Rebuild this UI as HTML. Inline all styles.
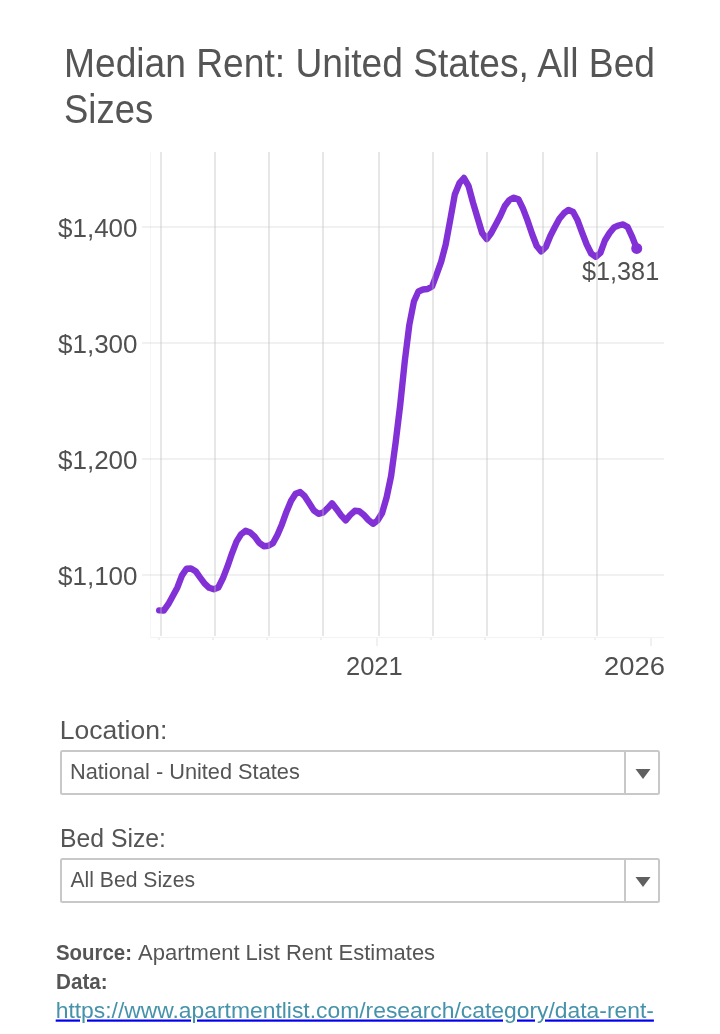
<!DOCTYPE html>
<html><head><meta charset="utf-8"><title>Median Rent: United States, All Bed Sizes</title>
<style>
html,body{margin:0;padding:0;background:#fff;}
body{width:720px;height:1034px;overflow:hidden;position:relative;}
svg{position:absolute;left:0;top:0;font-family:'Liberation Sans', Arial, sans-serif;will-change:transform;}
</style></head><body>
<svg width="720" height="1034" viewBox="0 0 720 1034">
<rect x="150" y="152" width="1" height="485" fill="#f6f6f6"/><rect x="142" y="226" width="522" height="2" fill="rgba(186,186,186,0.2)"/><rect x="142" y="342" width="522" height="2" fill="rgba(186,186,186,0.2)"/><rect x="142" y="458" width="522" height="2" fill="rgba(186,186,186,0.2)"/><rect x="142" y="574" width="522" height="2" fill="rgba(186,186,186,0.2)"/><rect x="150" y="637" width="514" height="1" fill="#f3f3f3"/><rect x="158" y="638" width="2" height="2" fill="#f0f0f0"/><rect x="212" y="638" width="2" height="2" fill="#f0f0f0"/><rect x="266" y="638" width="2" height="2" fill="#f0f0f0"/><rect x="320" y="638" width="2" height="2" fill="#f0f0f0"/><rect x="376" y="638" width="2" height="8" fill="#f0f0f0"/><rect x="430" y="638" width="2" height="2" fill="#f0f0f0"/><rect x="484" y="638" width="2" height="2" fill="#f0f0f0"/><rect x="540" y="638" width="2" height="2" fill="#f0f0f0"/><rect x="594" y="638" width="2" height="2" fill="#f0f0f0"/><rect x="650" y="638" width="2" height="8" fill="#f0f0f0"/><text x="58" y="236.7" font-size="26" fill="#505050">$1,400</text>
<text x="58" y="352.7" font-size="26" fill="#505050">$1,300</text>
<text x="58" y="468.7" font-size="26" fill="#505050">$1,200</text>
<text x="58" y="584.7" font-size="26" fill="#505050">$1,100</text>
<text x="346" y="675.3" font-size="26" fill="#505050" textLength="56.7" lengthAdjust="spacingAndGlyphs">2021</text>
<text x="604" y="675" font-size="26" fill="#505050" textLength="60.9" lengthAdjust="spacingAndGlyphs">2026</text>
<path d="M159.2,610.4 L163.7,610.6 L168.3,604.2 L172.8,596.0 L177.4,587.4 L181.9,575.6 L186.5,568.8 L191.0,568.5 L195.6,571.2 L200.1,577.5 L204.7,583.7 L209.2,587.8 L213.8,589.3 L218.3,587.5 L222.9,578.3 L227.4,566.7 L232.0,553.3 L236.5,541.7 L241.1,534.2 L245.6,530.8 L250.2,532.5 L254.7,536.7 L259.3,542.9 L263.8,546.2 L268.4,545.8 L272.9,543.3 L277.4,535.0 L282.0,524.2 L286.5,511.7 L291.1,500.8 L295.6,493.8 L300.2,492.1 L304.7,496.2 L309.3,503.3 L313.8,510.4 L318.4,513.8 L322.9,512.7 L327.5,508.3 L332.0,503.3 L336.6,509.2 L341.1,515.4 L345.7,520.4 L350.2,515.0 L354.8,510.8 L359.3,511.2 L363.9,515.0 L368.4,520.0 L373.0,523.8 L377.5,520.5 L382.1,513.0 L386.6,497.5 L391.1,476.0 L395.7,442.0 L400.2,405.0 L404.8,361.0 L409.3,325.0 L413.9,301.5 L418.4,291.5 L423.0,289.5 L427.5,289.0 L432.1,286.5 L436.6,274.5 L441.2,261.6 L445.7,244.5 L450.3,219.5 L454.8,194.5 L459.4,183.2 L463.9,178.0 L468.5,185.8 L473.0,202.6 L477.6,218.0 L482.1,233.0 L486.7,239.0 L491.2,233.0 L495.8,224.5 L500.3,216.0 L504.8,206.0 L509.4,200.0 L513.9,197.7 L518.5,199.3 L523.0,208.7 L527.6,220.7 L532.1,234.0 L536.7,246.0 L541.2,251.4 L545.8,247.0 L550.3,236.0 L554.9,227.0 L559.4,218.7 L564.0,213.2 L568.5,209.9 L573.1,212.0 L577.6,220.3 L582.2,232.8 L586.7,244.5 L591.3,253.7 L595.8,256.8 L600.4,252.9 L604.9,240.5 L609.5,233.0 L614.0,227.4 L618.5,225.5 L623.1,224.4 L627.6,227.0 L632.2,236.8 L636.7,248.4" fill="none" stroke="#8231d6" stroke-width="6.4" stroke-linecap="round" stroke-linejoin="round"/><circle cx="636.7" cy="248.4" r="5.5" fill="#8231d6"/><g fill="rgba(186,186,186,0.345)"><rect x="160" y="152" width="2" height="484"/><rect x="214" y="152" width="2" height="484"/><rect x="268" y="152" width="2" height="484"/><rect x="322" y="152" width="2" height="484"/><rect x="378" y="152" width="2" height="484"/><rect x="432" y="152" width="2" height="484"/><rect x="486" y="152" width="2" height="484"/><rect x="542" y="152" width="2" height="484"/><rect x="596" y="152" width="2" height="484"/></g><text x="582" y="280" font-size="26" fill="#505050" textLength="77.2" lengthAdjust="spacingAndGlyphs">$1,381</text>
<text x="64" y="77" font-size="40" fill="#555555" textLength="591" lengthAdjust="spacingAndGlyphs">Median Rent: United States, All Bed</text>
<text x="64" y="122.5" font-size="40" fill="#555555" textLength="89.2" lengthAdjust="spacingAndGlyphs">Sizes</text>
<text x="59.7" y="738.7" font-size="26.5" fill="#555555">Location:</text>
<text x="60" y="846.7" font-size="26.5" fill="#555555" textLength="106" lengthAdjust="spacingAndGlyphs">Bed Size:</text>
<rect x="61" y="751" width="598" height="43" rx="1.5" fill="#fff" stroke="#c8c8c8" stroke-width="2"/><rect x="624" y="750" width="2" height="45" fill="#c8c8c8"/><path d="M635.5,769 L650.5,769 L643,779 Z" fill="#606060"/><text x="70" y="778.8" font-size="22.8" fill="#555555" textLength="229.8" lengthAdjust="spacingAndGlyphs">National - United States</text>
<rect x="61" y="859" width="598" height="43" rx="1.5" fill="#fff" stroke="#c8c8c8" stroke-width="2"/><rect x="624" y="858" width="2" height="45" fill="#c8c8c8"/><path d="M635.5,877 L650.5,877 L643,887 Z" fill="#606060"/><text x="70.5" y="886.8" font-size="22.8" fill="#555555" textLength="124.5" lengthAdjust="spacingAndGlyphs">All Bed Sizes</text>
<text x="56" y="959.7" font-size="22" fill="#555555" font-weight="700" textLength="76" lengthAdjust="spacingAndGlyphs">Source:</text>
<text x="138" y="959.7" font-size="22" fill="#555555">Apartment List Rent Estimates</text>
<text x="56" y="988.7" font-size="22" fill="#555555" font-weight="700" textLength="51.6" lengthAdjust="spacingAndGlyphs">Data:</text>
<text x="55.7" y="1017.5" font-size="22" fill="#0000ee" text-decoration="underline" textLength="598.2" lengthAdjust="spacingAndGlyphs"><tspan fill="#4592aa">https://www.apartmentlist.com/research/category/data-rent-</tspan></text>
</svg>
</body></html>
